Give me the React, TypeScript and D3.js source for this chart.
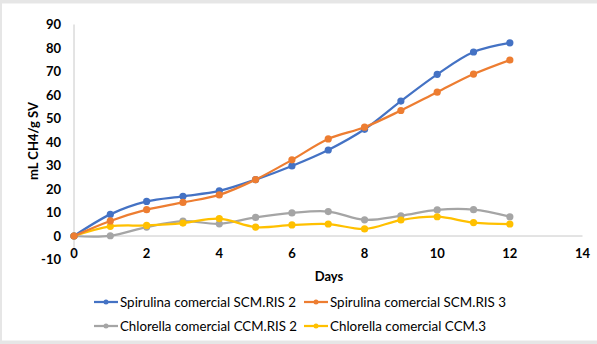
import React from "react";
import * as d3 from "d3";

const days = [0, 1, 2, 3, 4, 5, 6, 7, 8, 9, 10, 11, 12];
const scmRis2 = [0, 9.2, 14.7, 16.9, 19.2, 24, 29.8, 36.6, 45.4, 57.4, 68.8, 78.3, 82.2];
const scmRis3 = [0, 6.4, 11.2, 14.3, 17.5, 24, 32.4, 41.3, 46.3, 53.4, 61.2, 68.9, 74.9];
const ccmRis2 = [0, 0.1, 3.8, 6.3, 5.2, 7.9, 9.8, 10.4, 6.9, 8.6, 11.1, 11.2, 8.2];
const ccm3 = [0, 4.1, 4.5, 5.5, 7.4, 3.8, 4.7, 5.1, 3.0, 6.8, 8.2, 5.7, 5.1];
const seriesNames = [
  "Spirulina comercial SCM.RIS 2",
  "Spirulina comercial SCM.RIS 3",
  "Chlorella comercial CCM.RIS 2",
  "Chlorella comercial CCM.3",
];
const seriesColors = ["#4472C4", "#ED7D31", "#A5A5A5", "#FFC000"];
const xTicks = [0, 2, 4, 6, 8, 10, 12, 14];
const yTicks = [-10, 0, 10, 20, 30, 40, 50, 60, 70, 80, 90];

export default function App() {
  const W = 597, H = 344;
  const x = d3.scaleLinear().domain([0, 14]).range([74, 582.5]);
  const y = d3.scaleLinear().domain([-10, 90]).range([259.5, 24.5]);
  const all = [scmRis2, scmRis3, ccmRis2, ccm3];
  const line = d3
    .line<number>()
    .x((_, i) => x(days[i]))
    .y((d) => y(d))
    .curve(d3.curveCatmullRom.alpha(0.5));
  const font = "Lato, 'Open Sans', sans-serif";
  const order = [2, 3, 0, 1];
  const legendPos = [
    { lx: 94, tx: 120, y: 302, w: 176 },
    { lx: 304, tx: 330, y: 302, w: 176 },
    { lx: 94, tx: 120, y: 326, w: 177 },
    { lx: 304, tx: 330, y: 326, w: 156 },
  ];
  return (
    <div style={{ position: "fixed", left: 0, top: 0 }}>
      <svg width={W} height={H} style={{ display: "block" }}>
        <rect x={0} y={0} width={W} height={H} fill="#e6e6e6" />
        <rect x={2} y={3.5} width={W - 2} height={337} fill="#ffffff" />
        {/* axes */}
        <line x1={x(0)} x2={x(0)} y1={y(90)} y2={y(-10)} stroke="#c8c8c8" strokeWidth={1} />
        <line x1={x(0)} x2={x(14)} y1={y(0)} y2={y(0)} stroke="#c8c8c8" strokeWidth={1} />
        {yTicks.map((t) => (
          <text
            key={"y" + t}
            x={61}
            y={y(t)}
            dy="0.35em"
            textAnchor="end"
            fontFamily={font}
            fontWeight="bold"
            fontSize={13}
            fill="#000"
          >
            {t}
          </text>
        ))}
        {xTicks.map((t) => (
          <text
            key={"x" + t}
            x={x(t)}
            y={258}
            textAnchor="middle"
            fontFamily={font}
            fontWeight="bold"
            fontSize={13}
            fill="#000"
          >
            {t}
          </text>
        ))}
        <text
          transform={`translate(38,141) rotate(-90)`}
          textAnchor="middle"
          fontFamily={font}
          fontWeight="bold"
          fontSize={13}
          fill="#000"
        >
          mL CH4/g SV
        </text>
        <text x={329} y={281} textAnchor="middle" fontFamily={font} fontWeight="bold" fontSize={13} fill="#000">
          Days
        </text>
        {order.map((si) => (
          <g key={"s" + si}>
            <path d={line(all[si]) || ""} fill="none" stroke={seriesColors[si]} strokeWidth={2.25} />
            {all[si].map((v, i) => (
              <circle key={i} cx={x(days[i])} cy={y(v)} r={3.6} fill={seriesColors[si]} />
            ))}
          </g>
        ))}
        {seriesNames.map((n, i) => {
          const p = legendPos[i];
          return (
            <g key={"l" + i}>
              <line x1={p.lx} x2={p.lx + 24} y1={p.y} y2={p.y} stroke={seriesColors[i]} strokeWidth={2.25} />
              <circle cx={p.lx + 12} cy={p.y} r={2.5} fill={seriesColors[i]} />
              <text
                x={p.tx}
                y={p.y}
                dy="0.35em"
                fontFamily={font}
                fontSize={14}
                fill="#000"
                textLength={p.w}
                lengthAdjust="spacingAndGlyphs"
              >
                {n}
              </text>
            </g>
          );
        })}
      </svg>
    </div>
  );
}
